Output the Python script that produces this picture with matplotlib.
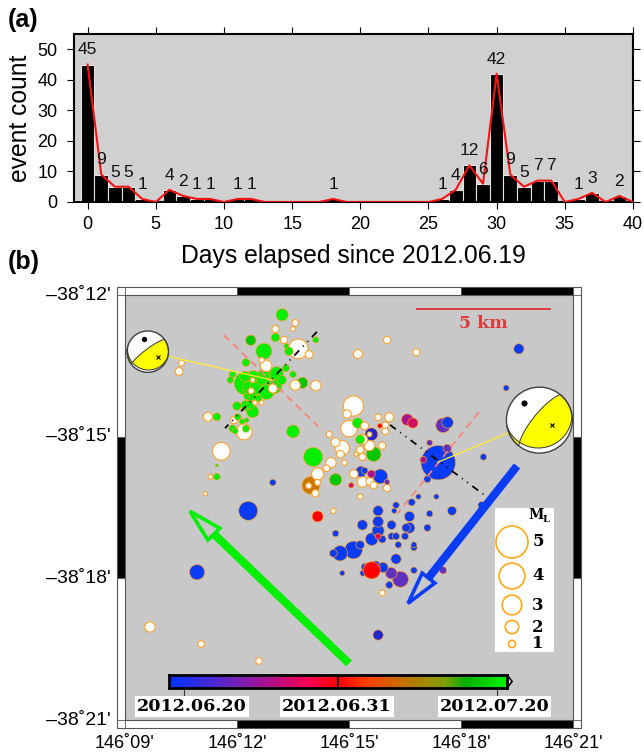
import numpy as np
import matplotlib
matplotlib.use('Agg')
import matplotlib.pyplot as plt
from matplotlib.colors import LinearSegmentedColormap
from matplotlib.patches import Polygon, Rectangle, Circle
from matplotlib.transforms import ScaledTranslation

plt.rcParams['font.family'] = ['Liberation Sans', 'DejaVu Sans']

# panel a: daily event count
counts = [45, 9, 5, 5, 1, 0, 4, 2, 1, 1, 0, 1, 1, 0, 0, 0, 0, 0, 1, 0, 0,
          0, 0, 0, 0, 0, 1, 4, 12, 6, 42, 9, 5, 7, 7, 0, 1, 3, 0, 2, 0]
day_before = 0.6

# panel b: events, (lon minutes past 146, lat minutes south of 38, magnitude)
green = [(13.21, 12.42, 1.8), (12.72, 13.19, 2.4), (12.24, 13.43, 1.1), (13.03, 12.90, 1.2),
         (13.32, 13.08, 0.6), (13.39, 13.19, 1.2), (14.11, 12.95, 0.8), (13.31, 13.55, 1.0),
         (13.50, 13.68, 0.9), (11.88, 13.68, 0.9), (11.82, 13.80, 0.9), (12.24, 13.87, 3.6),
         (12.39, 13.98, 2.6), (12.88, 13.87, 3.6), (13.06, 13.66, 2.0), (12.57, 14.19, 1.0),
         (12.26, 14.15, 0.8), (12.00, 14.35, 1.2), (12.24, 14.34, 1.5), (12.42, 14.47, 1.8),
         (12.02, 14.58, 0.9), (12.26, 14.65, 0.6), (12.14, 14.68, 0.7), (11.88, 14.83, 1.0),
         (11.95, 14.88, 0.8), (12.24, 14.83, 1.0), (11.46, 14.58, 1.1), (13.50, 14.89, 1.9),
         (14.04, 15.43, 2.9), (11.46, 15.85, 0.9), (11.46, 15.61, 0.3), (12.66, 13.80, 1.5),
         (13.20, 13.80, 1.3), (15.23, 14.71, 1.5), (15.30, 15.06, 1.3), (12.57, 13.94, 2.5),
         (12.79, 14.05, 2.3), (13.02, 13.94, 2.0), (12.44, 13.73, 1.8), (12.21, 13.73, 1.5),
         (12.70, 13.70, 1.7), (12.35, 14.12, 1.8), (12.35, 14.33, 1.2)]
dark_green = [(12.37, 12.96, 1.5), (13.75, 13.86, 1.6), (15.66, 15.37, 2.2), (14.64, 15.91, 1.8)]
white = [(13.56, 12.59, 0.9), (13.50, 12.72, 0.6), (13.03, 12.72, 1.0), (13.26, 12.95, 1.0),
         (13.64, 13.14, 3.0), (13.93, 13.26, 1.1), (12.66, 13.38, 0.7), (12.78, 13.50, 1.7),
         (10.51, 13.44, 0.8), (10.45, 13.62, 1.1), (13.56, 13.91, 1.5), (14.11, 13.92, 1.5),
         (12.42, 13.80, 0.6), (12.96, 13.98, 1.3), (12.38, 14.03, 0.8), (12.48, 14.28, 0.6),
         (12.66, 14.28, 0.6), (11.22, 14.58, 1.3), (11.92, 14.65, 1.0), (12.19, 14.90, 2.4),
         (11.58, 15.31, 2.7), (14.16, 15.79, 1.8), (14.40, 15.67, 0.9), (14.16, 15.97, 0.8),
         (14.10, 16.20, 1.0), (13.92, 16.04, 0.8), (11.29, 15.85, 0.6), (11.16, 16.21, 0.5),
         (9.67, 19.03, 1.5), (11.04, 19.39, 0.9), (12.59, 19.75, 0.9), (15.24, 13.25, 1.3),
         (16.02, 12.95, 1.0), (16.80, 13.21, 1.0), (15.12, 14.35, 3.1), (14.95, 14.52, 1.2),
         (15.00, 14.83, 2.5), (15.78, 14.59, 0.9), (16.08, 14.59, 1.3), (15.42, 14.77, 1.1),
         (15.97, 14.76, 0.9), (15.97, 14.89, 0.9), (14.47, 14.95, 0.8), (14.64, 15.12, 1.3),
         (14.82, 15.24, 2.2), (14.77, 15.37, 1.1), (15.55, 15.19, 1.5), (15.36, 15.06, 1.5),
         (15.89, 15.19, 1.0), (15.30, 15.28, 1.0), (15.19, 15.37, 0.5), (15.36, 15.43, 1.0),
         (14.52, 15.55, 1.5), (14.88, 15.55, 0.7), (15.13, 15.79, 1.2), (15.36, 15.96, 1.5),
         (15.56, 15.95, 1.1), (15.66, 16.03, 1.0), (16.02, 16.09, 1.0), (15.30, 16.27, 0.7),
         (14.58, 16.57, 0.7), (15.89, 18.31, 0.8), (15.55, 14.95, 0.6)]
orange = [(13.98, 16.03, 2.7)]
red = [(14.16, 16.69, 1.6), (15.61, 17.83, 2.6), (15.83, 14.77, 0.6)]
crimson = [(15.78, 17.11, 0.8), (15.06, 16.03, 0.7), (16.71, 14.71, 1.5)]
magenta = [(16.56, 14.64, 1.7), (16.99, 15.49, 0.9), (15.60, 15.79, 1.1)]
purple = [(17.52, 14.76, 2.2), (17.16, 15.13, 0.8), (17.63, 15.25, 1.2), (16.02, 15.96, 0.7),
          (16.13, 17.89, 1.7), (16.38, 18.02, 2.4), (17.52, 17.83, 1.0)]
blue = [(17.64, 14.70, 1.7), (17.39, 15.55, 5.4), (17.10, 15.90, 1.0), (18.60, 15.43, 0.9),
        (16.86, 16.27, 0.7), (17.34, 16.27, 0.7), (16.68, 16.39, 1.0), (16.26, 16.45, 0.9),
        (16.21, 16.57, 0.7), (15.78, 16.57, 1.5), (17.76, 16.57, 1.3), (17.16, 16.63, 0.9),
        (16.62, 16.69, 1.5), (15.78, 16.80, 1.6), (15.36, 16.87, 1.5), (16.14, 16.87, 1.3),
        (17.10, 16.93, 1.0), (16.53, 16.93, 1.2), (16.62, 16.93, 1.6), (15.78, 16.99, 1.8),
        (14.64, 17.05, 0.9), (16.14, 17.11, 1.0), (16.26, 17.11, 1.0), (16.50, 17.11, 1.0),
        (15.61, 17.17, 1.9), (15.89, 17.17, 1.1), (16.32, 17.29, 0.9), (16.74, 17.29, 0.8),
        (16.74, 17.35, 0.9), (15.12, 17.40, 2.7), (15.30, 17.29, 1.2), (14.76, 17.47, 2.3),
        (14.58, 17.47, 1.1), (16.26, 17.59, 1.5), (16.74, 17.83, 0.9), (14.82, 17.89, 0.7),
        (15.43, 17.76, 1.1), (15.37, 17.89, 0.8), (15.50, 17.74, 0.9), (15.72, 17.72, 1.2),
        (15.91, 17.77, 1.5), (16.08, 18.14, 1.0), (18.55, 16.45, 1.0), (15.32, 15.74, 1.6),
        (15.42, 15.72, 0.9), (15.84, 15.84, 2.2), (12.96, 15.97, 0.9), (12.30, 16.57, 2.9),
        (10.93, 17.87, 2.3), (19.55, 13.14, 1.5), (19.21, 13.97, 0.8)]
dark_blue = [(15.60, 14.95, 1.9), (15.78, 19.20, 1.5)]

groups = [(green, '#00ee00'), (dark_green, '#00c800'), (white, '#ffffff'), (orange, '#c87800'),
          (crimson, '#d01060'), (magenta, '#a8148c'), (purple, '#6030c0'),
          (blue, '#0a3cf5'), (dark_blue, '#2525cc')]

lon_ticks = [9, 12, 15, 18, 21]
lat_ticks = [12, 15, 18, 21]
lon_labels = ["146˚09'", "146˚12'", "146˚15'", "146˚18'", "146˚21'"]
lat_labels = ["–38˚12'", "–38˚15'", "–38˚18'", "–38˚21'"]

legend_mags = [5, 4, 3, 2, 1]
cbar_labels = ['2012.06.20', '2012.06.31', '2012.07.20']
cbar_colors = [(0.0, '#0033ff'), (0.18, '#6a24c0'), (0.30, '#b0108a'), (0.42, '#ff0050'),
               (0.50, '#ff0000'), (0.58, '#ff3c00'), (0.70, '#c07400'), (0.82, '#80a000'),
               (0.88, '#00b000'), (1.0, '#00f000')]

# focal mechanisms: lon, lat, radius px, (strike, dip) x2, P (az, plunge), T (az, plunge)
ball_left = (9.61, 13.20, 20.7, (233, 80), (105, 13), (344, 36), (118, 43))
ball_right = (20.10, 14.65, 33.0, (219, 75), (80, 17), (318, 32), (111, 56))

yellow_lines = [((12.94, 9.61), (13.80, 13.20)), ((17.38, 20.10), (15.54, 14.65))]
fault_lines = [((14.14, 11.68), (12.78, 14.82)), ((16.10, 18.70), (14.75, 16.28))]
coral_lines = [((11.65, 14.17), (12.85, 14.78)), ((18.48, 16.31), (14.48, 16.62))]
green_arrow = ((15.00, 11.38), (19.80, 17.06), (10.74, 16.58), (11.54, 16.94), (11.22, 17.19))
blue_arrow = ((19.50, 17.12), (15.62, 18.00), (16.58, 18.53), (16.96, 17.89), (17.30, 18.10))

W, H = 644, 754


def mag_to_px(m):
    return 6.2 * np.asarray(m, dtype=float) + 1


def px_axes(l, t, r, b):
    return [l / W, 1 - b / H, (r - l) / W, (b - t) / H]


def project(az, plunge):
    rr = np.sqrt(2) * np.sin(np.radians(90 - plunge) / 2)
    return rr * np.sin(np.radians(az)), rr * np.cos(np.radians(az))


def plane_arc(strike, dip):
    az = np.linspace(strike, strike + 180, 361)
    pl = np.degrees(np.arctan(np.tan(np.radians(dip)) * np.sin(np.radians(az - strike))))
    return project(az, pl)


def rim(a0, a1):
    az = np.radians(np.linspace(a0, a1, 60))
    return np.sin(az), np.cos(az)


def draw_ball(ax, lon, lat, r_px, pa, pb, p_axis, t_axis):
    r = r_px / fig.dpi
    tr = fig.dpi_scale_trans + ScaledTranslation(lon, lat, ax.transData)
    ax_x, ax_y = plane_arc(*pa)
    bx, by = plane_arc(*pb)
    d = np.hypot(ax_x[:, None] - bx[None, :], ax_y[:, None] - by[None, :])
    ia, ib = np.unravel_index(np.argmin(d), d.shape)
    rx, ry = rim(pb[0], pa[0] - 180)
    main_x = np.r_[ax_x[ia:][::-1], bx[:ib + 1][::-1], rx]
    main_y = np.r_[ax_y[ia:][::-1], by[:ib + 1][::-1], ry]
    rx, ry = rim(pb[0] + 180, pa[0])
    lune_x = np.r_[bx[ib:], rx, ax_x[:ia + 1]]
    lune_y = np.r_[by[ib:], ry, ax_y[:ia + 1]]
    ax.add_patch(Circle((0, 0), r, transform=tr, fc='white', ec='none', zorder=6, clip_on=False))
    for xs, ys in [(main_x, main_y), (lune_x, lune_y)]:
        ax.add_patch(Polygon(np.c_[xs, ys] * r, transform=tr, fc='#ffff00', ec='#333333',
                             lw=0.7, zorder=6.1, clip_on=False))
    ax.add_patch(Circle((0, 0), r, transform=tr, fc='none', ec='#404040', lw=1.0, zorder=6.2,
                        clip_on=False))
    px, py = project(*p_axis)
    ax.plot(px * r, py * r, 'o', color='black', ms=r_px * 0.05 + 2.8, mew=0, transform=tr, zorder=6.3)
    tx, ty = project(*t_axis)
    ax.plot(tx * r, ty * r, 'x', color='black', ms=3.5, mew=0.8, transform=tr, zorder=6.3)


def draw_arrow(ax, arrow, color):
    lons, lats, tip, c1, c2 = arrow
    ax.plot(lons, lats, color=color, lw=5.8, solid_capstyle='butt', zorder=5)
    ax.add_patch(Polygon(np.column_stack(([tip[0], c1[0], c2[0]], [tip[1], c1[1], c2[1]])),
                 fc='#c8c8c8', ec=color, lw=2.6, joinstyle='miter', zorder=5))


fig = plt.figure(figsize=(W / 100, H / 100), dpi=100)

# ---- panel a
ax1 = fig.add_axes(px_axes(74, 34, 633, 202))
ax1.set_facecolor('#d0d0d0')
days = np.arange(len(counts))
ax1.bar(np.r_[-1, days], np.r_[day_before, counts], width=1.0, color='black', edgecolor='#e4e4e4',
        linewidth=0.8, zorder=2)
ax1.plot(days, counts, color='#f01515', lw=1.5, zorder=3)
for d, c in zip(days, counts):
    if c > 0:
        ax1.text(d, c + 4.8, str(c), ha='center', va='center', fontsize=12.5, color='#111111', zorder=4)
ax1.set_xlim(-1, 40)
ax1.set_ylim(0, 55)
ax1.set_xticks(np.arange(0, 41, 5))
ax1.set_yticks(np.arange(0, 51, 10))
ax1.tick_params(axis='both', direction='out', length=5, width=0.8, top=True, right=True, labelsize=13, pad=5)
ax1.tick_params(axis='y', pad=7)
ax1.set_xlabel('Days elapsed since 2012.06.19', fontsize=17.8, labelpad=8)
ax1.set_ylabel('event count', fontsize=17.7, labelpad=4)
for s in ax1.spines.values():
    s.set_linewidth(1.5)

# ---- panel b
ax2 = fig.add_axes(px_axes(125, 295, 573, 720))
ax2.set_facecolor('#c8c8c8')
ax2.set_xlim(9, 21)
ax2.set_ylim(21, 12)
ax2.set_xticks(lon_ticks, lon_labels)
ax2.set_yticks(lat_ticks, lat_labels)
ax2.tick_params(axis='x', length=0, labelsize=13, pad=11)
ax2.tick_params(axis='y', length=0, labelsize=14, pad=10)
up = ScaledTranslation(0, 2 / 100, fig.dpi_scale_trans)
for lab in ax2.get_yticklabels():
    lab.set_transform(lab.get_transform() + up)
for s in ax2.spines.values():
    s.set_linewidth(0.8)
    s.set_color('#555555')

# checkered map frame
band_x = 8 / (448 / 12)
band_y = 8 / (425 / 9)
for i in range(4):
    col = 'black' if i % 2 else 'white'
    for lat0 in (12 - band_y, 21):
        ax2.add_patch(Rectangle((lon_ticks[i], lat0), 3, band_y, fc=col, ec='#555555', lw=0.6, clip_on=False))
for i in range(3):
    col = 'black' if i % 2 else 'white'
    for lon0 in (9 - band_x, 21):
        ax2.add_patch(Rectangle((lon0, lat_ticks[i]), band_x, 3, fc=col, ec='#555555', lw=0.6, clip_on=False))
ax2.add_patch(Rectangle((9 - band_x, 12 - band_y), 12 + 2 * band_x, 9 + 2 * band_y, fc='none',
                        ec='#555555', lw=0.8, clip_on=False))

# events, biggest first so small ones stay visible, red ones go on top
rows = []
for grp, col in groups:
    for lon, lat, m in grp:
        rows.append((lon, lat, m, col))
rows.sort(key=lambda e: -e[2])
rows += [(lon, lat, m, '#ff0000') for lon, lat, m in red]
ev_lon = [e[0] for e in rows]
ev_lat = [e[1] for e in rows]
ev_size = (mag_to_px([e[2] for e in rows]) * 0.72) ** 2
ev_col = [e[3] for e in rows]
ev_lw = [0.75 if e[3] == '#ffffff' else 0.45 for e in rows]
ax2.scatter(ev_lon, ev_lat, s=ev_size, c=ev_col, edgecolors='#ffa020', linewidths=ev_lw, zorder=3)

for xs, ys in fault_lines:
    ax2.plot(xs, ys, color='black', lw=1.3, ls=(0, (4, 3, 0.6, 3, 0.6, 3)), zorder=4)
for xs, ys in coral_lines:
    ax2.plot(xs, ys, color='#ff8070', lw=1.2, ls=(0, (4.5, 3)), zorder=4)
for xs, ys in yellow_lines:
    ax2.plot(xs, ys, color='#ffee30', lw=0.9, zorder=4.5)

draw_arrow(ax2, green_arrow, '#00ee00')
draw_arrow(ax2, blue_arrow, '#0a3cf5')
draw_ball(ax2, *ball_left)
draw_ball(ax2, *ball_right)

# scale bar
ax2.plot([16.82, 20.38], [12.30, 12.30], color='#dc3c3c', lw=1.4, zorder=4)
ax2.text(18.59, 12.61, '5 km', color='#dc3c3c', family='DejaVu Serif', weight='bold', fontsize=12.5,
         ha='center', va='center')

# magnitude legend
leg = fig.add_axes(px_axes(495, 508, 554, 652))
leg.set_xlim(495, 554)
leg.set_ylim(652, 508)
leg.set_xticks([])
leg.set_yticks([])
leg.set_facecolor('white')
for s in leg.spines.values():
    s.set_visible(False)
leg_y = [542, 576, 605, 627, 644]
leg.scatter([512] * 5, leg_y, s=(mag_to_px(legend_mags) * 0.72) ** 2, fc='white', ec='#ffa818', lw=1.2,
            clip_on=False)
for m, y in zip(legend_mags, leg_y):
    leg.text(538, y, str(m), family='DejaVu Serif', weight='bold', fontsize=12, ha='center', va='center')
leg.text(536, 515, 'M', family='DejaVu Serif', weight='bold', fontsize=10, ha='center', va='center')
leg.text(546, 520, 'L', family='DejaVu Serif', weight='bold', fontsize=7, ha='center', va='center')

# time colour bar
cb = fig.add_axes(px_axes(169, 675, 507, 688))
cmap = LinearSegmentedColormap.from_list('time', cbar_colors)
cb.imshow(np.linspace(0, 1, 338)[None, :], aspect='auto', cmap=cmap, extent=[0, 1, 0, 1])
cb.set_xticks([(184 - 169) / 338, (497 - 169) / 338], ['', ''])
cb.set_yticks([])
cb.tick_params(axis='x', length=6, width=0.8, color='#333333')
cb.axvline(0.5, color='black', lw=1.2)
for s in cb.spines.values():
    s.set_linewidth(2)
cb.add_patch(Polygon([(1, 0), (1.015, 0.5), (1, 1)], fc='white', ec='black', lw=1.2, clip_on=False))
for x, lab in zip([192, 337, 494.5], cbar_labels):
    fig.text(x / W, 1 - 706.5 / H, lab, family='DejaVu Serif', weight='bold', fontsize=12.6,
             ha='center', va='center', bbox=dict(fc='white', ec='none', pad=1.5))

fig.text(8 / W, 1 - 20 / H, '(a)', weight='bold', fontsize=18, ha='left', va='center')
fig.text(8 / W, 1 - 262 / H, '(b)', weight='bold', fontsize=18, ha='left', va='center')

fig.savefig('out.png', dpi=100)
